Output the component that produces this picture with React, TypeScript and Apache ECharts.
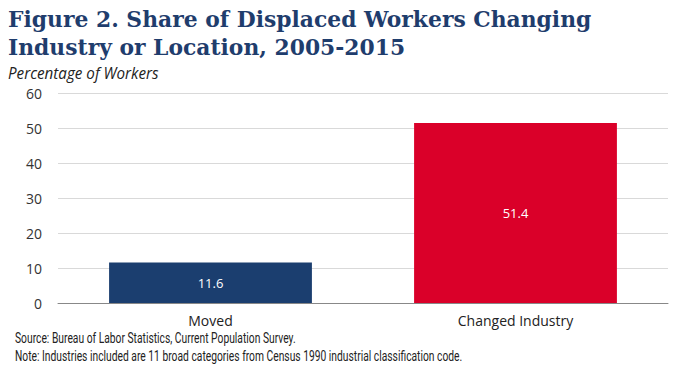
import React, { useEffect, useRef } from "react";
import * as echarts from "echarts";

const categories = ["Moved", "Changed Industry"];
const values = [11.6, 51.4];
const barColors = ["#1b3e6f", "#da0029"];
const yTicks = { min: 0, max: 60, interval: 10 };
const titleLines = ["Figure 2. Share of Displaced Workers Changing", "Industry or Location, 2005-2015"];
const subtitle = "Percentage of Workers";
const sourceText = "Source: Bureau of Labor Statistics, Current Population Survey.";
const noteText = "Note: Industries included are 11 broad categories from Census 1990 industrial classification code.";

export default function App() {
  const ref = useRef<HTMLDivElement>(null);
  useEffect(() => {
    if (!ref.current) return;
    const chart = echarts.init(ref.current, null, { renderer: "svg" });
    chart.setOption({
      animation: false,
      backgroundColor: "#ffffff",
      graphic: [
        {
          type: "text",
          x: 8,
          y: 5,
          style: {
            text: titleLines.join("\n"),
            fontFamily: "DejaVu Serif",
            fontWeight: "bold",
            fontSize: 23,
            lineHeight: 28,
            fill: "#1f3d6d",
            verticalAlign: "top",
          },
          scaleX: 0.95,
        },
        {
          type: "text",
          x: 8,
          y: 65,
          scaleX: 0.95,
          style: { text: subtitle, fontFamily: "Open Sans", fontStyle: "italic", fontSize: 16, fill: "#222", verticalAlign: "top" },
        },
        {
          type: "text",
          x: 15,
          y: 330,
          scaleX: 0.71,
          style: { text: sourceText, fontFamily: "Roboto", fontSize: 14.5, fill: "#222", verticalAlign: "top" },
        },
        {
          type: "text",
          x: 15,
          y: 348,
          scaleX: 0.71,
          style: { text: noteText, fontFamily: "Roboto", fontSize: 14.5, fill: "#222", verticalAlign: "top" },
        },
      ],
      grid: { left: 58, right: 12, top: 93, bottom: 82, containLabel: false },
      xAxis: {
        type: "category",
        data: categories,
        axisTick: { show: false },
        axisLine: { lineStyle: { color: "#888", width: 1 } },
        axisLabel: { fontFamily: "Open Sans", fontSize: 14, color: "#222", margin: 10 },
      },
      yAxis: {
        type: "value",
        min: yTicks.min,
        max: yTicks.max,
        interval: yTicks.interval,
        axisLabel: { fontFamily: "Open Sans", fontSize: 14, color: "#333", margin: 16 },
        splitLine: { lineStyle: { color: "#d9d9d9" } },
        axisLine: { show: false },
      },
      series: [
        {
          type: "bar",
          data: values.map((v, i) => ({ value: v, itemStyle: { color: barColors[i] } })),
          barCategoryGap: "33.5%",
          label: {
            show: true,
            position: "inside",
            color: "#fff",
            fontFamily: "Open Sans",
            fontSize: 13,
          },
        },
      ],
    });
    return () => chart.dispose();
  }, []);
  return <div ref={ref} style={{ position: "fixed", left: 0, top: 0, width: 680, height: 385 }} />;
}
